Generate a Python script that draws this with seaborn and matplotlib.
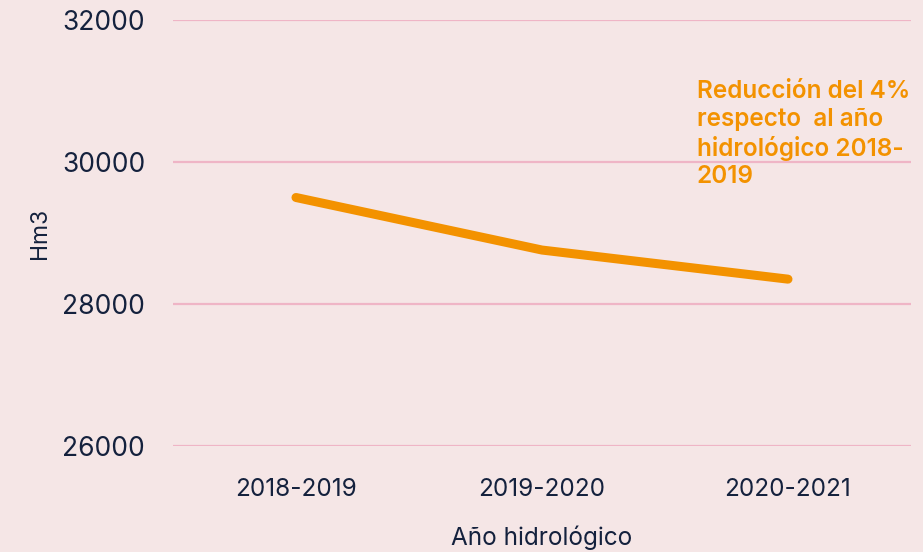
import pandas as pd
import seaborn as sns
import matplotlib.pyplot as plt

# datos
anios = ["2018-2019", "2019-2020", "2020-2021"]
volumen_hm3 = [29500, 28760, 28350]
yticks = [26000, 28000, 30000, 32000]
nota = "Reducción del 4%\nrespecto  al año\nhidrológico 2018-\n2019"

fondo = "#f5e6e6"
rejilla = "#efb5c6"
naranja = "#f39200"
texto = "#14213d"

sns.set_theme(style="white")
plt.rcParams["font.family"] = ["Inter", "DejaVu Sans"]

df = pd.DataFrame({"anio": anios, "hm3": volumen_hm3})

fig, ax = plt.subplots(figsize=(9.23, 5.52), dpi=100)
fig.patch.set_facecolor(fondo)
ax.set_facecolor(fondo)
fig.subplots_adjust(left=0.1874, right=0.987, top=0.9638, bottom=0.192)

sns.lineplot(data=df, x="anio", y="hm3", color=naranja, linewidth=6.5,
             solid_capstyle="round", ax=ax, zorder=3)

ax.set_ylim(26000, 32000)
ax.set_xlim(-0.5, 2.5)
ax.set_yticks(yticks)
ax.yaxis.grid(True, color=rejilla, linewidth=1.6)
ax.xaxis.grid(False)
for s in ax.spines.values():
    s.set_visible(False)
ax.tick_params(axis="y", length=0, pad=20, labelsize=19, labelcolor=texto)
ax.tick_params(axis="x", length=0, pad=23, labelsize=17.5, labelcolor=texto)

ax.set_xlabel("Año hidrológico", fontsize=17.5, color=texto, labelpad=18)
ax.set_ylabel("Hm3", fontsize=16.5, color=texto, labelpad=8)

ax.text(1.63, 31150, nota, color=naranja, fontsize=17.5, fontweight="semibold",
        va="top", ha="left", linespacing=1.25)

fig.savefig("out.png", dpi=100, facecolor=fondo)
